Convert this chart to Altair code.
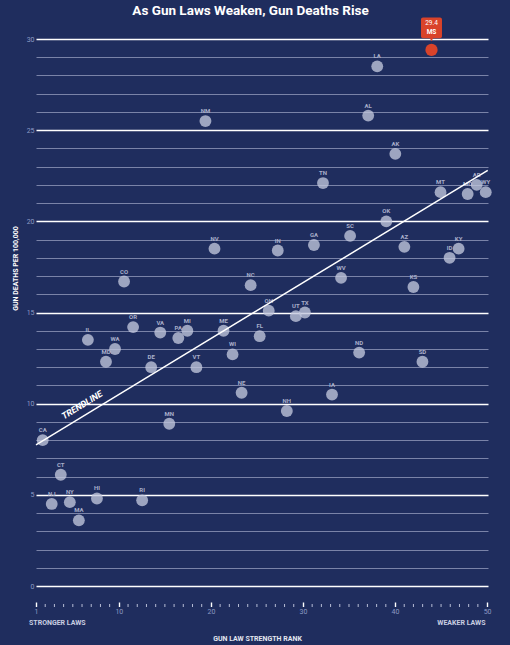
import altair as alt
import pandas as pd

# Gun law strength rank (1 = strongest laws) and gun deaths per 100,000
states = ["CA", "NJ", "CT", "NY", "MA", "IL", "HI", "MD", "WA", "CO",
          "OR", "RI", "DE", "VA", "MN", "PA", "MI", "VT", "NM", "NV",
          "ME", "WI", "NE", "NC", "FL", "OH", "IN", "NH", "UT", "TX",
          "GA", "TN", "IA", "WV", "SC", "ND", "AL", "LA", "OK", "AK",
          "AZ", "KS", "SD", "MS", "MT", "ID", "KY", "MO", "AR", "WY"]
ranks = [1, 2, 3, 4, 5, 6, 7, 8, 9, 10,
         11, 12, 13, 14, 15, 16, 17, 18, 19, 20,
         21, 22, 23, 24, 25, 26, 27, 28, 29, 30,
         31, 32, 33, 34, 35, 36, 37, 38, 39, 40,
         41, 42, 43, 44, 45, 46, 47, 48, 49, 50]
rates = [8.0, 4.5, 6.1, 4.6, 3.6, 13.5, 4.8, 12.3, 13.0, 16.7,
         14.2, 4.7, 12.0, 13.9, 8.9, 13.6, 14.0, 12.0, 25.5, 18.5,
         14.0, 12.7, 10.6, 16.5, 13.7, 15.1, 18.4, 9.6, 14.8, 15.0,
         18.7, 22.1, 10.5, 16.9, 19.2, 12.8, 25.8, 28.5, 20.0, 23.7,
         18.6, 16.4, 12.3, 29.4, 21.6, 18.0, 18.5, 21.5, 22.0, 21.6]
highlight = "MS"

# Trendline end points
trend_rank = [0.26, 50.22]
trend_rate = [7.74, 22.79]
trend_label = ["TRENDLINE"]
trend_label_rank = [5.35]
trend_label_rate = [9.93]

# Axis ticks and texts
x_tick_labels = [1, 10, 20, 30, 40, 50]
x_minor_ticks = [r for r in ranks if r not in x_tick_labels]
y_ticks = [0, 1, 2, 3, 4, 5, 6, 7, 8, 9, 10, 11, 12, 13, 14, 15,
           16, 17, 18, 19, 20, 21, 22, 23, 24, 25, 26, 27, 28, 29, 30]
edge_labels = ["STRONGER LAWS", "WEAKER LAWS"]
title_text = ["As Gun Laws Weaken, Gun Deaths Rise"]
x_title = "GUN LAW STRENGTH RANK"
y_title = "GUN DEATHS PER 100,000"

BG = "#1f2d5e"
DOT = "#c2c6dc"
LABEL = "#a9afca"
AXIS_LABEL = "#8d9ac4"
MINOR_GRID = "#7a83a8"
RED = "#d9432a"
FONT = "Roboto"

df = pd.DataFrame({"state": states, "rank": ranks, "rate": rates})
trend_df = pd.DataFrame({"rank": trend_rank, "rate": trend_rate})
note_df = pd.DataFrame({"text": trend_label, "rank": trend_label_rank,
                        "rate": trend_label_rate})
tick_df = pd.DataFrame({"tick": x_minor_ticks})
left_df = pd.DataFrame({"text": [edge_labels[0]]})
right_df = pd.DataFrame({"text": [edge_labels[1]]})
title_df = pd.DataFrame({"text": title_text})

x_enc = alt.X("rank:Q", scale=alt.Scale(domain=[0.26, 50.25], nice=False, zero=False),
              axis=None)
y_enc = alt.Y(
    "rate:Q",
    scale=alt.Scale(domain=[0, 30], nice=False),
    axis=alt.Axis(
        values=y_ticks,
        grid=True,
        gridColor={"condition": {"test": "datum.value % 5 === 0", "value": "#ffffff"},
                   "value": MINOR_GRID},
        gridWidth={"condition": {"test": "datum.value % 5 === 0", "value": 1.4},
                   "value": 1},
        labelExpr="datum.value % 5 === 0 ? datum.label : ''",
        labelOverlap=False,
        domain=False,
        ticks=False,
        labelColor=AXIS_LABEL,
        labelFont=FONT,
        labelFontSize=7,
        labelPadding=2,
        title=y_title,
        titleFont=FONT,
        titleFontSize=7,
        titleFontWeight="bold",
        titleColor="#ffffff",
        titleAngle=270,
        titleAlign="center",
        titleBaseline="middle",
        titleX=-21,
        titleY=229,
    ),
)

base = alt.Chart(df)
others = base.transform_filter(f"datum.state !== '{highlight}'")
star = base.transform_filter(f"datum.state === '{highlight}'")

labels = others.mark_text(
    font=FONT, fontSize=6, fontWeight="bold", color=LABEL, dy=-10, baseline="middle"
).encode(x=x_enc, y=y_enc, text="state:N")

dots = others.mark_circle(size=140, color=DOT, opacity=0.78).encode(x=x_enc, y=y_enc)
red_dot = star.mark_circle(size=150, color=RED, opacity=1).encode(x=x_enc, y=y_enc)

trend = alt.Chart(trend_df).mark_line(color="#ffffff", strokeWidth=1.5).encode(
    x=x_enc, y=y_enc)
trend_note = alt.Chart(note_df).mark_text(
    font=FONT, fontSize=9, fontWeight="bold", fontStyle="italic", color="#ffffff",
    angle=328.7, baseline="middle", align="center"
).encode(x=x_enc, y=y_enc, text="text:N")

callout = star.mark_rect(width=21, height=20.7, cornerRadius=2, color=RED,
                         yOffset=-22).encode(x=x_enc, y=y_enc)
pointer = star.mark_point(shape="triangle-down", filled=True, size=18, color=RED,
                          opacity=1, yOffset=-10.5).encode(x=x_enc, y=y_enc)
call_value = star.mark_text(font=FONT, fontSize=6.5, color="#ffffff", dy=-26.7,
                            baseline="middle").encode(
    x=x_enc, y=y_enc, text=alt.Text("rate:Q", format=".1f"))
call_state = star.mark_text(font=FONT, fontSize=6.5, fontWeight="bold",
                            color="#ffffff", dy=-17.7, baseline="middle").encode(
    x=x_enc, y=y_enc, text="state:N")

left_note = alt.Chart(left_df).mark_text(
    font=FONT, fontSize=7, fontWeight="bold", color="#c9cee2", align="left",
    baseline="middle").encode(x=alt.value(-7), y=alt.value(584.3), text="text:N")
right_note = alt.Chart(right_df).mark_text(
    font=FONT, fontSize=7, fontWeight="bold", color="#c9cee2", align="right",
    baseline="middle").encode(x=alt.value(449.5), y=alt.value(584.3), text="text:N")

# Chart heading, set just above the plot area
heading = alt.Chart(title_df).mark_text(
    font=FONT, fontSize=13.5, fontWeight="bold", color="#ffffff", align="center",
    baseline="alphabetic").encode(x=alt.value(214.5), y=alt.value(-24.5), text="text:N")

plot = alt.layer(labels, dots, red_dot, trend, trend_note, callout, pointer,
                 call_value, call_state, left_note, right_note, heading)

ticks = alt.Chart(tick_df).mark_rule(color="#b7bdd6", strokeWidth=1).encode(
    x=alt.X(
        "tick:Q",
        scale=alt.Scale(domain=[1, 50.1], nice=False, zero=False),
        axis=alt.Axis(
            values=x_tick_labels,
            offset=16,
            tickSize=4.5,
            tickColor="#ffffff",
            tickWidth=1.4,
            domain=False,
            grid=False,
            labelFlush=False,
            labelColor=AXIS_LABEL,
            labelFont=FONT,
            labelFontSize=7,
            labelPadding=1,
            title=x_title,
            titleFont=FONT,
            titleFontSize=7,
            titleFontWeight="bold",
            titleColor="#e3e6f0",
            titleAlign="center",
            titleBaseline="middle",
            titleX=221,
            titleY=36,
        ),
    ),
    y=alt.value(565),
    y2=alt.value(568),
)

chart = (
    alt.layer(plot, ticks)
    .resolve_scale(x="independent")
    .properties(
        width=452,
        height=547,
        autosize="none",
        padding={"left": 36, "top": 39, "right": 22, "bottom": 59},
        background=BG,
    )
    .configure_view(stroke=None)
)

chart.save("out.html", embed_options={"renderer": "svg", "actions": False})
